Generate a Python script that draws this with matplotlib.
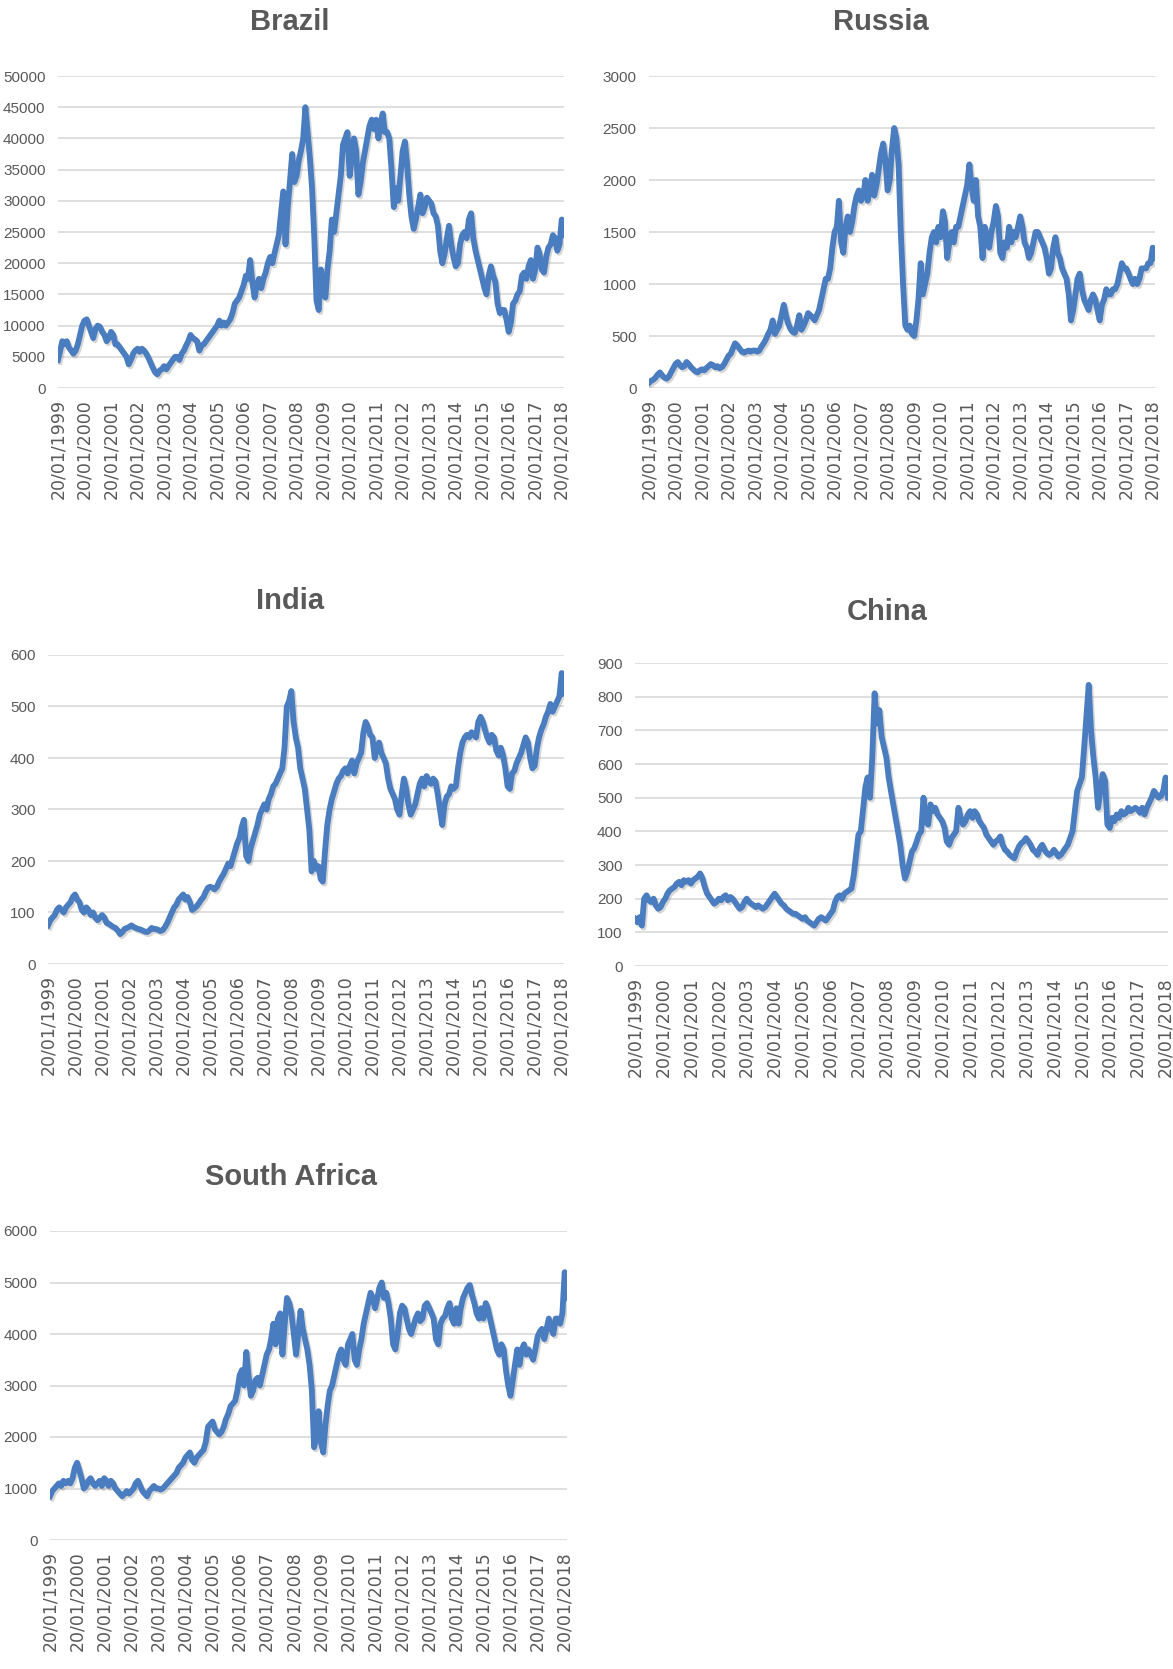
import numpy as np
import pandas as pd
import matplotlib
matplotlib.use('Agg')
import matplotlib.pyplot as plt
import matplotlib.patheffects as pe

# weekly index levels, one value per month (Jan 1999 - Feb 2018)
dates = pd.date_range('1999-01-01', periods=230, freq='MS') + pd.Timedelta(days=19)
tick_years = list(range(1999, 2019))
tick_labels = [f'20/01/{y}' for y in tick_years]

brazil = [
    4500, 6000, 7500, 7000, 7500, 6500, 6000, 5500, 6000, 7000, 8500, 10000,          # 1999
    10800, 11000, 10000, 9000, 8000, 9500, 10000, 9800, 9000, 8500, 7500, 8000,       # 2000
    9000, 8500, 7000, 7000, 6500, 6000, 5500, 5000, 3800, 4500, 5500, 6000,           # 2001
    6300, 5800, 6300, 6000, 5500, 4800, 4000, 3200, 2500, 2200, 2800, 3000,           # 2002
    3500, 3000, 3500, 4000, 4500, 5000, 5000, 4500, 5500, 6000, 6800, 7500,           # 2003
    8500, 8000, 7800, 7500, 6000, 6800, 7000, 7500, 8000, 8500, 9000, 9500,           # 2004
    10000, 10800, 10000, 10500, 10000, 10500, 11000, 12000, 13500, 14000, 14500, 15500,  # 2005
    16500, 18000, 17500, 20500, 17000, 14500, 16500, 17500, 16000, 17500, 18500, 20000,  # 2006
    21000, 20000, 21500, 23000, 24500, 28000, 31500, 23000, 29000, 33000, 37500, 33000,  # 2007
    34000, 36500, 38000, 40000, 45000, 41000, 37000, 32000, 24000, 14000, 12500, 19000,  # 2008
    15000, 14500, 19000, 22000, 27000, 25000, 28000, 31000, 34000, 39000, 40000, 41000,  # 2009
    34000, 37000, 40000, 38000, 31000, 33000, 36000, 38000, 40000, 42000, 43000, 41500,  # 2010
    43000, 40000, 42000, 44000, 41000, 41000, 40000, 35000, 29000, 32000, 30000, 34000,  # 2011
    38000, 39500, 36000, 31000, 27500, 25500, 27000, 29000, 31000, 28000, 29000, 30500,  # 2012
    30000, 29500, 28000, 27500, 26000, 22000, 20000, 21500, 24000, 26000, 23000, 21000,  # 2013
    19500, 20000, 23000, 24500, 25000, 24000, 27000, 28000, 24000, 22000, 20500, 19000,  # 2014
    17500, 16000, 15000, 18000, 19500, 18000, 17000, 13500, 12000, 12500, 12500, 11000,  # 2015
    9000, 10500, 13500, 14000, 15000, 15500, 18000, 18500, 17500, 19500, 20500, 17500,   # 2016
    19000, 22500, 21500, 19000, 18500, 21000, 22500, 23000, 24500, 24000, 22000, 23000,  # 2017
    27000, 24500,                                                                     # 2018
]

russia = [
    50, 70, 80, 100, 130, 150, 120, 100, 90, 110, 150, 190,
    230, 250, 220, 200, 210, 250, 230, 200, 180, 160, 150, 170,
    180, 170, 190, 210, 230, 220, 200, 210, 190, 200, 230, 270,
    310, 330, 380, 430, 410, 380, 350, 340, 350, 360, 350, 360,
    360, 350, 360, 400, 430, 470, 520, 560, 650, 520, 560, 600,
    700, 800, 700, 620, 570, 540, 530, 600, 700, 560, 600, 650,
    720, 700, 680, 650, 700, 750, 850, 950, 1050, 1050, 1150, 1350,
    1500, 1550, 1800, 1400, 1300, 1550, 1650, 1500, 1600, 1750, 1850, 1900,
    1800, 1850, 2000, 1800, 1900, 2050, 1850, 1950, 2100, 2250, 2350, 2200,
    1900, 2000, 2300, 2500, 2400, 2150, 1500, 1000, 600, 560, 600, 520,
    500, 650, 850, 1200, 900, 1000, 1100, 1300, 1450, 1500, 1400, 1550,
    1450, 1700, 1600, 1250, 1400, 1500, 1400, 1550, 1550, 1650, 1750, 1850,
    1950, 2150, 1950, 1800, 2000, 1650, 1550, 1250, 1550, 1450, 1350, 1500,
    1600, 1750, 1650, 1300, 1250, 1400, 1350, 1550, 1400, 1500, 1450, 1550,
    1650, 1550, 1400, 1350, 1250, 1300, 1400, 1500, 1500, 1450, 1400, 1350,
    1250, 1100, 1150, 1350, 1450, 1300, 1250, 1150, 1100, 1050, 900, 650,
    750, 900, 1050, 1100, 950, 850, 800, 750, 850, 900, 850, 750,
    650, 800, 850, 950, 900, 900, 950, 950, 1000, 1100, 1200, 1150,
    1150, 1100, 1050, 1000, 1050, 1000, 1050, 1150, 1150, 1150, 1200, 1200,
    1350, 1250,
]

india = [
    75, 85, 90, 95, 105, 110, 105, 100, 110, 115, 120, 130,
    135, 125, 120, 105, 100, 110, 105, 95, 100, 90, 85, 90,
    95, 90, 80, 78, 75, 72, 70, 65, 58, 62, 68, 70,
    72, 75, 72, 70, 68, 67, 65, 63, 62, 65, 70, 68,
    68, 66, 64, 66, 72, 80, 90, 100, 110, 115, 125, 130,
    135, 125, 130, 120, 105, 108, 112, 118, 125, 130, 140, 148,
    150, 148, 145, 150, 160, 168, 175, 185, 195, 190, 205, 220,
    235, 245, 265, 280, 210, 200, 225, 240, 255, 270, 290, 300,
    310, 300, 320, 330, 345, 350, 360, 370, 380, 420, 500, 510,
    530, 470, 440, 420, 380, 360, 340, 300, 260, 180, 200, 185,
    190, 165, 160, 220, 270, 300, 320, 335, 350, 360, 365, 375,
    380, 370, 385, 395, 370, 390, 400, 410, 450, 470, 460, 445,
    440, 400, 420, 430, 410, 400, 390, 360, 340, 330, 320, 300,
    290, 330, 360, 340, 310, 290, 300, 310, 330, 350, 360, 345,
    365, 355, 350, 360, 355, 330, 300, 270, 310, 325, 330, 345,
    340, 345, 380, 410, 430, 440, 445, 440, 450, 445, 440, 470,
    480, 470, 455, 440, 430, 445, 440, 415, 405, 420, 405, 380,
    345, 340, 370, 375, 390, 400, 410, 425, 440, 430, 400, 380,
    385, 420, 440, 455, 465, 480, 490, 505, 490, 500, 510, 520,
    565, 525,
]

china = [
    140, 130, 145, 120, 200, 210, 195, 190, 200, 180, 170, 175,
    190, 200, 215, 225, 230, 235, 245, 250, 240, 255, 250, 255,
    245, 255, 260, 265, 275, 260, 235, 215, 205, 195, 185, 190,
    200, 195, 205, 210, 195, 205, 200, 190, 180, 170, 175, 190,
    200, 190, 185, 180, 175, 180, 175, 170, 175, 185, 195, 205,
    215, 205, 195, 185, 180, 170, 165, 160, 155, 155, 150, 145,
    140, 145, 135, 130, 125, 120, 130, 140, 145, 140, 135, 145,
    155, 165, 190, 205, 210, 200, 215, 220, 225, 230, 270, 330,
    390, 400, 460, 530, 560, 500, 620, 810, 720, 760, 680, 650,
    620, 560, 520, 480, 440, 400, 360, 300, 260, 280, 310, 340,
    350, 370, 390, 400, 500, 430, 420, 480, 460, 470, 450, 440,
    430, 410, 370, 360, 380, 390, 400, 470, 440, 420, 430, 450,
    460, 440, 460, 450, 430, 420, 410, 390, 380, 370, 360, 370,
    375, 385, 360, 345, 340, 330, 325, 320, 340, 355, 365, 370,
    380, 370, 360, 345, 340, 330, 350, 360, 345, 335, 330, 335,
    345, 335, 325, 330, 340, 350, 360, 380, 400, 460, 520, 540,
    560, 650, 740, 835, 700, 620, 560, 470, 520, 570, 550, 420,
    410, 440, 430, 450, 440, 460, 450, 455, 470, 460, 465, 470,
    465, 455, 470, 450, 470, 485, 500, 520, 510, 500, 505, 520,
    560, 500,
]

south_africa = [
    850, 950, 1000, 1050, 1100, 1050, 1150, 1100, 1150, 1100, 1200, 1400,
    1500, 1350, 1200, 1000, 1050, 1150, 1200, 1100, 1050, 1100, 1150, 1050,
    1200, 1150, 1050, 1150, 1100, 1000, 950, 900, 850, 900, 950, 900,
    950, 1000, 1100, 1150, 1050, 950, 900, 850, 950, 1000, 1050, 1000,
    1000, 980, 1000, 1050, 1100, 1150, 1200, 1250, 1300, 1400, 1450, 1500,
    1600, 1650, 1700, 1550, 1500, 1600, 1650, 1700, 1750, 1900, 2200, 2250,
    2300, 2150, 2100, 2050, 2100, 2200, 2350, 2450, 2600, 2650, 2700, 2900,
    3200, 3300, 3000, 3650, 3200, 2800, 2900, 3100, 3150, 3000, 3200, 3400,
    3600, 3700, 3900, 4200, 3800, 4300, 4400, 3600, 4200, 4700, 4600, 4400,
    4000, 3600, 4000, 4450, 4100, 3900, 3700, 3400, 2900, 1800, 2000, 2500,
    1900, 1700, 2200, 2600, 2900, 3000, 3200, 3400, 3600, 3700, 3500, 3400,
    3800, 3900, 4000, 3500, 3400, 3700, 3900, 4200, 4400, 4600, 4800, 4700,
    4500, 4700, 4900, 5000, 4700, 4800, 4600, 4300, 3800, 3700, 4000, 4400,
    4550, 4500, 4300, 4100, 4000, 4150, 4300, 4400, 4250, 4300, 4550, 4600,
    4500, 4400, 4300, 3900, 3800, 4200, 4300, 4350, 4500, 4600, 4300, 4200,
    4500, 4200, 4500, 4700, 4800, 4900, 4950, 4750, 4600, 4400, 4300, 4500,
    4300, 4600, 4500, 4300, 4100, 3900, 3700, 3600, 3800, 3700, 3300, 3000,
    2800, 3100, 3400, 3700, 3400, 3700, 3800, 3600, 3700, 3600, 3500, 3700,
    3950, 4050, 4100, 3900, 4100, 4300, 4100, 4000, 4300, 4300, 4200, 4400,
    5200, 4700,
]

LINE = '#4a7cc0'
TEXT = '#595959'
SANS = ['Liberation Sans', 'DejaVu Sans']

W, H = 1173, 1669
fig = plt.figure(figsize=(W / 100, H / 100), dpi=100)


# panel boxes in pixels: left, top, right, bottom of the plotting area
def add_panel(box, values, title, title_xy, ymax, ystep):
    l, t, r, b = box
    ax = fig.add_axes([l / W, 1 - b / H, (r - l) / W, (b - t) / H])
    ax.plot(dates, values, color=LINE, lw=4.2, solid_joinstyle='round', zorder=3,
            path_effects=[pe.SimpleLineShadow(offset=(1.2, -1.5), shadow_color='#8a8a8a', alpha=0.35),
                          pe.Normal()])
    ax.set_xlim(dates[0], dates[-1])
    ax.set_ylim(0, ymax)
    yt = np.arange(0, ymax + 1, ystep)
    ax.set_yticks(yt)
    ax.set_yticklabels([f'{int(v)}' for v in yt], family=SANS, fontsize=11, color=TEXT)
    ax.set_xticks(pd.to_datetime([f'{y}-01-20' for y in tick_years]))
    ax.set_xticklabels(tick_labels, rotation=90, family='DejaVu Sans', fontsize=12.5, color=TEXT)
    ax.tick_params(axis='both', length=0)
    ax.tick_params(axis='y', pad=9)
    ax.tick_params(axis='x', pad=8)
    ax.grid(axis='y', color='#d9d9d9', lw=1.2, zorder=0)
    ax.set_axisbelow(True)
    for s in ax.spines.values():
        s.set_visible(False)
    fig.text(title_xy[0] / W, 1 - title_xy[1] / H, title, ha='center', va='center',
             family=SANS, fontsize=21, fontweight='bold', color=TEXT)
    return ax


add_panel((58, 76, 564, 388), brazil, 'Brazil', (290, 22), 50000, 5000)
add_panel((649, 76, 1155, 388), russia, 'Russia', (881, 22), 3000, 500)
add_panel((48, 655, 564, 964), india, 'India', (290, 601), 600, 100)
add_panel((635, 663, 1168, 966), china, 'China', (887, 612), 900, 100)
add_panel((50, 1231, 567, 1540), south_africa, 'South Africa', (291, 1177), 6000, 1000)

fig.savefig('out.png', dpi=100, facecolor='white')
